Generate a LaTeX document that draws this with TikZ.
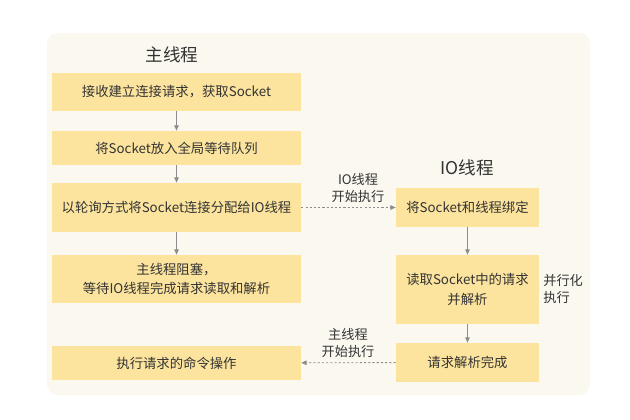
\documentclass[tikz,border=0pt]{standalone}
\usepackage{fontspec}
\setmainfont{Noto Sans CJK SC}
\usetikzlibrary{arrows.meta}
\definecolor{io_bg}{RGB}{250, 248, 239}
\definecolor{io_box}{RGB}{252, 228, 158}
\definecolor{io_text}{RGB}{51, 51, 51}
\definecolor{io_line}{RGB}{140, 140, 140}
\tikzstyle{mbox}=[rectangle,fill=io_box,draw=none,text=io_text,align=center,
  font=\fontsize{7.6}{11}\selectfont,minimum width=4.98cm,inner sep=0pt]
\tikzstyle{ibox}=[rectangle,fill=io_box,draw=none,text=io_text,align=center,
  font=\fontsize{7.6}{11}\selectfont,minimum width=2.86cm,inner sep=0pt]
\tikzstyle{lbl}=[text=io_text,align=center,font=\fontsize{7.5}{9.5}\selectfont,inner sep=0pt]
\tikzstyle{ttl}=[text=io_text,font=\fontsize{10}{12}\selectfont,inner sep=0pt]
\tikzstyle{flow}=[draw=io_line,line width=0.5pt,-{Triangle[length=3pt,width=2.6pt]}]
\tikzstyle{hand}=[flow,dash pattern=on 1.2pt off 1.2pt]

\begin{document}
\begin{tikzpicture}[x=0.02cm,y=-0.02cm]
    \useasboundingbox (0,0) rectangle (630,420);
    \fill [io_bg,rounded corners=6] (47,33) rectangle (590,395);

    % main thread
    \node [style=ttl] (mtitle) at (172,55) {主线程};
    \node [style=mbox,minimum height=0.76cm] (accept) at (176.5,92) {接收建立连接请求，获取Socket};
    \node [style=mbox,minimum height=0.68cm] (queue) at (176.5,148) {将Socket放入全局等待队列};
    \node [style=mbox,minimum height=0.98cm] (assign) at (176.5,207.5) {以轮询方式将Socket连接分配给IO线程};
    \node [style=mbox,minimum height=0.96cm] (block) at (176.5,279) {主线程阻塞，\\等待IO线程完成请求读取和解析};
    \node [style=mbox,minimum height=0.68cm] (exec) at (176.5,363) {执行请求的命令操作};

    % io threads
    \node [style=ttl] (ititle) at (467,168) {IO线程};
    \node [style=ibox,minimum height=0.78cm] (bind) at (467.5,207.5) {将Socket和线程绑定};
    \node [style=ibox,minimum height=1.38cm] (parse) at (467.5,289.5) {读取Socket中的请求\\并解析};
    \node [style=ibox,minimum height=0.78cm] (done) at (467.5,362.5) {请求解析完成};

    \node [style=lbl] (iostart) at (358,188) {IO线程\\开始执行};
    \node [style=lbl,align=left,anchor=west] (para) at (543,289) {并行化\\执行};
    \node [style=lbl] (mainstart) at (348,343) {主线程\\开始执行};

    \draw [style=flow] (accept) to (queue);
    \draw [style=flow] (queue) to (assign);
    \draw [style=flow] (assign) to (block);
    \draw [style=flow] (bind) to (parse);
    \draw [style=flow] (parse) to (done);
    \draw [style=hand] (assign) to (bind);
    \draw [style=hand] (done) to (exec);
  \end{tikzpicture}
\end{document}
